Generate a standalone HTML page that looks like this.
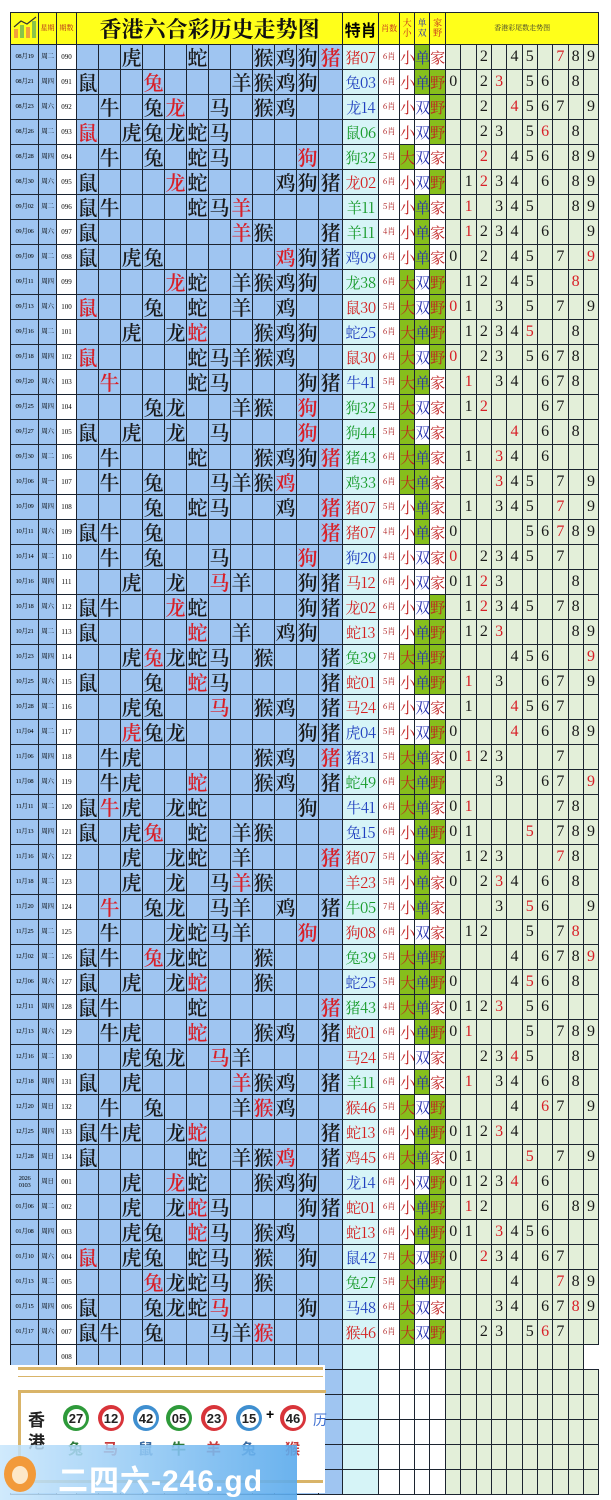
<!DOCTYPE html>
<html><head><meta charset="utf-8">
<style>
body{margin:0;width:611px;height:1500px;background:#fff;position:relative;overflow:hidden;font-family:"Liberation Serif","Noto Serif CJK SC",serif}
table{position:absolute;left:10px;top:12px;border-collapse:collapse;table-layout:fixed;width:588px}
td{border:1px solid #1c2430;padding:0;text-align:center;vertical-align:middle;overflow:hidden;white-space:nowrap;height:24px;background:#9fc5f1;line-height:1}
tr.h td{height:27px;background:#ffff1a}
tbody tr td:nth-child(1){font-size:6.5px;letter-spacing:-0.3px}
tbody tr td:nth-child(2){font-size:6.5px;letter-spacing:-0.3px}
tbody tr td:nth-child(3){font-size:7px;background:#fff}
tbody tr td:nth-child(n+4){font-size:20px;font-family:"Noto Serif CJK SC","Liberation Serif",serif;font-weight:600;color:#1a1a1a}
tbody tr td:nth-child(16){background:#d6f4f7;font-size:15px;font-weight:400;letter-spacing:-0.5px}
tbody tr td:nth-child(17){background:#fff;font-size:8px;color:#b02020;font-weight:400}
tbody tr td:nth-child(18){background:#fff;font-size:15px;color:#c02020;font-weight:400}
tbody tr td:nth-child(19){background:#fff;font-size:15px;color:#2430b0;font-weight:400}
tbody tr td:nth-child(20){background:#fff;font-size:15px;color:#c02020;font-weight:400}
tbody tr td:nth-child(n+21){background:#e3efd9;font-size:16px;font-family:"Liberation Serif",serif;font-weight:400}
tbody tr td.g{background:#86bf1c}
tbody tr td.r{color:#d82028}
.R{color:#d42020!important}.B{color:#1f3fbf!important}.G{color:#179a2a!important}
.ball{position:absolute;width:26px;height:26px;border-radius:50%;top:1405px;font:bold 13px "Liberation Sans",sans-serif;color:#222;display:flex;align-items:center;justify-content:center}
.ball span{background:#fff;border-radius:50%;width:19px;height:19px;display:flex;align-items:center;justify-content:center}
.lb{position:absolute;top:1438px;font:bold 15px "Noto Sans CJK SC",sans-serif}
</style></head><body>
<table>
<colgroup><col style="width:28px"><col style="width:18px"><col style="width:20px"><col span="11" style="width:22px"><col style="width:24px"><col style="width:36px"><col style="width:21px"><col style="width:15px"><col style="width:15px"><col style="width:16px"><col span="10" style="width:15.3px"></colgroup>
<thead><tr class="h"><td><svg width="26" height="24" viewBox="0 0 26 24"><rect x="2" y="14" width="4" height="9" fill="#f2a03a"/><rect x="8" y="10" width="4" height="13" fill="#8bc34a"/><rect x="14" y="12" width="4" height="11" fill="#f2a03a"/><rect x="20" y="6" width="4" height="17" fill="#8bc34a"/><polyline points="2,12 9,6 15,9 24,2" fill="none" stroke="#333" stroke-width="1.2"/></svg></td><td style="font-size:7px;color:#b02020">星期</td><td style="font-size:7px;color:#b02020">期数</td><td colspan="12" style="font:bold 22px 'Noto Serif CJK SC',serif;color:#111">香港六合彩历史走势图</td><td style="font:bold 16px 'Noto Sans CJK SC',sans-serif">特肖</td><td style="font-size:8px;color:#c02020">肖数</td><td style="font-size:9px;color:#c02020;line-height:1.1">大<br>小</td><td style="font-size:9px;color:#2430b0;line-height:1.1">单<br>双</td><td style="font-size:9px;color:#c02020;line-height:1.1">家<br>野</td><td colspan="10" style="font-size:7px;color:#333">香港彩尾数走势图</td></tr></thead>
<tbody>
<tr><td>08月19<td>周二<td>090<td><td><td>虎<td><td><td>蛇<td><td><td>猴<td>鸡<td>狗<td class=r>猪<td class=R>猪07<td>6肖<td>小<td class=g>单<td>家<td><td><td>2<td><td>4<td>5<td><td class=r>7<td>8<td>9
<tr><td>08月21<td>周四<td>091<td>鼠<td><td><td class=r>兔<td><td><td><td>羊<td>猴<td>鸡<td>狗<td><td class=B>兔03<td>6肖<td>小<td class=g>单<td class=g>野<td>0<td><td>2<td class=r>3<td><td>5<td>6<td><td>8<td>
<tr><td>08月23<td>周六<td>092<td><td>牛<td><td>兔<td class=r>龙<td><td>马<td><td>猴<td>鸡<td><td><td class=B>龙14<td>6肖<td>小<td>双<td class=g>野<td><td><td>2<td><td class=r>4<td>5<td>6<td>7<td><td>9
<tr><td>08月26<td>周二<td>093<td class=r>鼠<td><td>虎<td>兔<td>龙<td>蛇<td>马<td><td><td><td><td><td class=G>鼠06<td>6肖<td>小<td>双<td class=g>野<td><td><td>2<td>3<td><td>5<td class=r>6<td><td>8<td>
<tr><td>08月28<td>周四<td>094<td><td>牛<td><td>兔<td><td>蛇<td>马<td><td><td><td class=r>狗<td><td class=G>狗32<td>5肖<td class=g>大<td>双<td>家<td><td><td class=r>2<td><td>4<td>5<td>6<td><td>8<td>9
<tr><td>08月30<td>周六<td>095<td>鼠<td><td><td><td class=r>龙<td>蛇<td><td><td><td>鸡<td>狗<td>猪<td class=R>龙02<td>6肖<td>小<td>双<td class=g>野<td><td>1<td class=r>2<td>3<td>4<td><td>6<td><td>8<td>9
<tr><td>09月02<td>周二<td>096<td>鼠<td>牛<td><td><td><td>蛇<td>马<td class=r>羊<td><td><td><td><td class=G>羊11<td>5肖<td>小<td class=g>单<td>家<td><td class=r>1<td><td>3<td>4<td>5<td><td><td>8<td>9
<tr><td>09月06<td>周六<td>097<td>鼠<td><td><td><td><td><td><td class=r>羊<td>猴<td><td><td>猪<td class=G>羊11<td>4肖<td>小<td class=g>单<td>家<td><td class=r>1<td>2<td>3<td>4<td><td>6<td><td><td>9
<tr><td>09月09<td>周二<td>098<td>鼠<td><td>虎<td>兔<td><td><td><td><td><td class=r>鸡<td>狗<td>猪<td class=B>鸡09<td>6肖<td>小<td class=g>单<td>家<td>0<td><td>2<td><td>4<td>5<td><td>7<td><td class=r>9
<tr><td>09月11<td>周四<td>099<td><td><td><td><td class=r>龙<td>蛇<td><td>羊<td>猴<td>鸡<td>狗<td><td class=G>龙38<td>6肖<td class=g>大<td>双<td class=g>野<td><td>1<td>2<td><td>4<td>5<td><td><td class=r>8<td>
<tr><td>09月13<td>周六<td>100<td class=r>鼠<td><td><td>兔<td><td>蛇<td><td>羊<td><td>鸡<td><td><td class=R>鼠30<td>5肖<td class=g>大<td>双<td class=g>野<td class=r>0<td>1<td><td>3<td><td>5<td><td>7<td><td>9
<tr><td>09月16<td>周二<td>101<td><td><td>虎<td><td>龙<td class=r>蛇<td><td><td>猴<td>鸡<td>狗<td><td class=B>蛇25<td>6肖<td class=g>大<td class=g>单<td class=g>野<td><td>1<td>2<td>3<td>4<td class=r>5<td><td><td>8<td>
<tr><td>09月18<td>周四<td>102<td class=r>鼠<td><td><td><td><td>蛇<td>马<td>羊<td>猴<td>鸡<td><td><td class=R>鼠30<td>6肖<td class=g>大<td>双<td class=g>野<td class=r>0<td><td>2<td>3<td><td>5<td>6<td>7<td>8<td>
<tr><td>09月20<td>周六<td>103<td><td class=r>牛<td><td><td><td>蛇<td>马<td><td><td><td>狗<td>猪<td class=B>牛41<td>5肖<td class=g>大<td class=g>单<td>家<td><td class=r>1<td><td>3<td>4<td><td>6<td>7<td>8<td>
<tr><td>09月25<td>周四<td>104<td><td><td><td>兔<td>龙<td><td><td>羊<td>猴<td><td class=r>狗<td><td class=G>狗32<td>5肖<td class=g>大<td>双<td>家<td><td>1<td class=r>2<td><td><td><td>6<td>7<td><td>
<tr><td>09月27<td>周六<td>105<td>鼠<td><td>虎<td><td>龙<td><td>马<td><td><td><td class=r>狗<td><td class=G>狗44<td>5肖<td class=g>大<td>双<td>家<td><td><td><td><td class=r>4<td><td>6<td><td>8<td>
<tr><td>09月30<td>周二<td>106<td><td>牛<td><td><td><td>蛇<td><td><td>猴<td>鸡<td>狗<td class=r>猪<td class=G>猪43<td>6肖<td class=g>大<td class=g>单<td>家<td><td>1<td><td class=r>3<td>4<td><td>6<td><td><td>
<tr><td>10月06<td>周一<td>107<td><td>牛<td><td>兔<td><td><td>马<td>羊<td>猴<td class=r>鸡<td><td><td class=G>鸡33<td>6肖<td class=g>大<td class=g>单<td>家<td><td><td><td class=r>3<td>4<td>5<td><td>7<td><td>9
<tr><td>10月09<td>周四<td>108<td><td><td><td>兔<td><td>蛇<td>马<td><td><td>鸡<td><td class=r>猪<td class=R>猪07<td>5肖<td>小<td class=g>单<td>家<td><td>1<td><td>3<td>4<td>5<td><td class=r>7<td><td>9
<tr><td>10月11<td>周六<td>109<td>鼠<td>牛<td><td>兔<td><td><td><td><td><td><td><td class=r>猪<td class=R>猪07<td>4肖<td>小<td class=g>单<td>家<td>0<td><td><td><td><td>5<td>6<td class=r>7<td>8<td>9
<tr><td>10月14<td>周二<td>110<td><td>牛<td><td>兔<td><td><td>马<td><td><td><td class=r>狗<td><td class=B>狗20<td>4肖<td>小<td>双<td>家<td class=r>0<td><td>2<td>3<td>4<td>5<td><td>7<td><td>
<tr><td>10月16<td>周四<td>111<td><td><td>虎<td><td>龙<td><td class=r>马<td>羊<td><td><td>狗<td>猪<td class=R>马12<td>6肖<td>小<td>双<td>家<td>0<td>1<td class=r>2<td>3<td><td><td><td><td>8<td>
<tr><td>10月18<td>周六<td>112<td>鼠<td>牛<td><td><td class=r>龙<td>蛇<td><td><td><td><td>狗<td>猪<td class=R>龙02<td>6肖<td>小<td>双<td class=g>野<td><td>1<td class=r>2<td>3<td>4<td>5<td><td>7<td>8<td>
<tr><td>10月21<td>周二<td>113<td>鼠<td><td><td><td><td class=r>蛇<td><td>羊<td><td>鸡<td>狗<td><td class=R>蛇13<td>5肖<td>小<td class=g>单<td class=g>野<td><td>1<td>2<td class=r>3<td><td><td><td><td>8<td>9
<tr><td>10月23<td>周四<td>114<td><td><td>虎<td class=r>兔<td>龙<td>蛇<td>马<td><td>猴<td><td><td>猪<td class=G>兔39<td>7肖<td class=g>大<td class=g>单<td class=g>野<td><td><td><td><td>4<td>5<td>6<td><td><td class=r>9
<tr><td>10月25<td>周六<td>115<td>鼠<td><td><td>兔<td><td class=r>蛇<td>马<td><td><td><td><td>猪<td class=R>蛇01<td>5肖<td>小<td class=g>单<td class=g>野<td><td class=r>1<td><td>3<td><td><td>6<td>7<td><td>9
<tr><td>10月28<td>周二<td>116<td><td><td>虎<td>兔<td><td><td class=r>马<td><td>猴<td>鸡<td><td>猪<td class=R>马24<td>6肖<td>小<td>双<td>家<td><td>1<td><td><td class=r>4<td>5<td>6<td>7<td><td>
<tr><td>11月04<td>周二<td>117<td><td><td class=r>虎<td>兔<td>龙<td><td><td><td><td><td>狗<td>猪<td class=B>虎04<td>5肖<td>小<td>双<td class=g>野<td>0<td><td><td><td class=r>4<td><td>6<td><td>8<td>9
<tr><td>11月06<td>周四<td>118<td><td>牛<td>虎<td><td><td><td><td><td>猴<td>鸡<td><td class=r>猪<td class=B>猪31<td>5肖<td class=g>大<td class=g>单<td>家<td>0<td class=r>1<td>2<td>3<td><td><td><td>7<td><td>
<tr><td>11月08<td>周六<td>119<td><td>牛<td>虎<td><td><td class=r>蛇<td><td><td>猴<td>鸡<td><td>猪<td class=G>蛇49<td>6肖<td class=g>大<td class=g>单<td class=g>野<td><td><td><td>3<td><td><td>6<td>7<td><td class=r>9
<tr><td>11月11<td>周二<td>120<td>鼠<td class=r>牛<td>虎<td><td>龙<td>蛇<td><td><td><td><td>狗<td><td class=B>牛41<td>6肖<td class=g>大<td class=g>单<td>家<td>0<td class=r>1<td><td><td><td><td><td>7<td>8<td>
<tr><td>11月13<td>周四<td>121<td>鼠<td><td>虎<td class=r>兔<td><td>蛇<td><td>羊<td>猴<td><td><td><td class=B>兔15<td>6肖<td>小<td class=g>单<td class=g>野<td>0<td>1<td><td><td><td class=r>5<td><td>7<td>8<td>9
<tr><td>11月16<td>周六<td>122<td><td><td>虎<td><td>龙<td>蛇<td><td>羊<td><td><td><td class=r>猪<td class=R>猪07<td>5肖<td>小<td class=g>单<td>家<td><td>1<td>2<td>3<td><td><td><td class=r>7<td>8<td>
<tr><td>11月18<td>周二<td>123<td><td><td>虎<td><td>龙<td><td>马<td class=r>羊<td>猴<td><td><td><td class=R>羊23<td>5肖<td>小<td class=g>单<td>家<td>0<td><td>2<td class=r>3<td>4<td><td>6<td><td>8<td>
<tr><td>11月20<td>周四<td>124<td><td class=r>牛<td><td>兔<td>龙<td><td>马<td>羊<td><td>鸡<td><td>猪<td class=G>牛05<td>7肖<td>小<td class=g>单<td>家<td><td><td><td>3<td><td class=r>5<td>6<td><td><td>9
<tr><td>11月25<td>周二<td>125<td><td>牛<td><td><td>龙<td>蛇<td>马<td>羊<td><td><td class=r>狗<td><td class=R>狗08<td>6肖<td>小<td>双<td>家<td><td>1<td>2<td><td><td>5<td><td>7<td class=r>8<td>
<tr><td>12月02<td>周二<td>126<td>鼠<td>牛<td><td class=r>兔<td>龙<td>蛇<td><td><td>猴<td><td><td><td class=G>兔39<td>5肖<td class=g>大<td class=g>单<td class=g>野<td><td><td><td><td>4<td><td>6<td>7<td>8<td class=r>9
<tr><td>12月06<td>周六<td>127<td>鼠<td><td>虎<td><td>龙<td class=r>蛇<td><td><td>猴<td><td><td><td class=B>蛇25<td>5肖<td class=g>大<td class=g>单<td class=g>野<td>0<td><td><td><td>4<td class=r>5<td>6<td><td>8<td>
<tr><td>12月11<td>周四<td>128<td>鼠<td>牛<td><td><td><td>蛇<td><td><td><td><td><td class=r>猪<td class=G>猪43<td>4肖<td class=g>大<td class=g>单<td>家<td>0<td>1<td>2<td class=r>3<td><td>5<td>6<td><td><td>
<tr><td>12月13<td>周六<td>129<td><td>牛<td>虎<td><td><td class=r>蛇<td><td><td>猴<td>鸡<td><td>猪<td class=R>蛇01<td>6肖<td>小<td class=g>单<td class=g>野<td>0<td class=r>1<td><td><td><td>5<td><td>7<td>8<td>9
<tr><td>12月16<td>周二<td>130<td><td><td>虎<td>兔<td>龙<td><td class=r>马<td>羊<td><td><td><td><td class=R>马24<td>5肖<td>小<td>双<td>家<td><td><td>2<td>3<td class=r>4<td>5<td><td><td>8<td>
<tr><td>12月18<td>周四<td>131<td>鼠<td><td>虎<td><td><td><td><td class=r>羊<td>猴<td>鸡<td><td>猪<td class=G>羊11<td>6肖<td>小<td class=g>单<td>家<td><td class=r>1<td><td>3<td>4<td><td>6<td><td>8<td>
<tr><td>12月20<td>周日<td>132<td><td>牛<td><td>兔<td><td><td><td>羊<td class=r>猴<td>鸡<td><td><td class=R>猴46<td>5肖<td class=g>大<td>双<td class=g>野<td><td><td><td><td>4<td><td class=r>6<td>7<td><td>9
<tr><td>12月25<td>周四<td>133<td>鼠<td>牛<td>虎<td><td>龙<td class=r>蛇<td><td><td><td><td><td>猪<td class=R>蛇13<td>6肖<td>小<td class=g>单<td class=g>野<td>0<td>1<td>2<td class=r>3<td>4<td><td><td><td><td>
<tr><td>12月28<td>周日<td>134<td>鼠<td><td><td><td><td>蛇<td><td>羊<td>猴<td class=r>鸡<td><td>猪<td class=R>鸡45<td>6肖<td class=g>大<td class=g>单<td>家<td>0<td>1<td><td><td><td class=r>5<td><td>7<td><td>9
<tr><td style="line-height:1.1">2026<br>0103<td>周日<td>001<td><td><td>虎<td><td class=r>龙<td>蛇<td><td><td>猴<td>鸡<td>狗<td><td class=B>龙14<td>6肖<td>小<td>双<td class=g>野<td>0<td>1<td>2<td>3<td class=r>4<td><td>6<td><td><td>
<tr><td>01月06<td>周二<td>002<td><td><td>虎<td><td>龙<td class=r>蛇<td>马<td><td><td><td>狗<td>猪<td class=R>蛇01<td>6肖<td>小<td class=g>单<td class=g>野<td><td class=r>1<td>2<td><td><td><td>6<td><td>8<td>9
<tr><td>01月08<td>周四<td>003<td><td><td>虎<td>兔<td><td class=r>蛇<td>马<td><td>猴<td>鸡<td><td><td class=R>蛇13<td>6肖<td>小<td class=g>单<td class=g>野<td>0<td>1<td><td class=r>3<td>4<td>5<td>6<td><td><td>
<tr><td>01月10<td>周六<td>004<td class=r>鼠<td><td>虎<td>兔<td><td>蛇<td>马<td><td>猴<td><td>狗<td><td class=B>鼠42<td>7肖<td class=g>大<td>双<td class=g>野<td>0<td><td class=r>2<td>3<td>4<td><td>6<td>7<td><td>
<tr><td>01月13<td>周二<td>005<td><td><td><td class=r>兔<td>龙<td>蛇<td>马<td><td>猴<td><td><td><td class=G>兔27<td>5肖<td class=g>大<td class=g>单<td class=g>野<td><td><td><td><td>4<td><td><td class=r>7<td>8<td>9
<tr><td>01月15<td>周四<td>006<td>鼠<td><td><td>兔<td>龙<td>蛇<td class=r>马<td><td><td><td>狗<td><td class=B>马48<td>6肖<td class=g>大<td>双<td>家<td><td><td><td>3<td>4<td><td>6<td>7<td class=r>8<td>9
<tr><td>01月17<td>周六<td>007<td>鼠<td>牛<td><td>兔<td><td><td>马<td>羊<td class=r>猴<td><td><td><td class=R>猴46<td>6肖<td class=g>大<td>双<td class=g>野<td><td><td>2<td>3<td><td>5<td class=r>6<td>7<td><td>
<tr><td><td><td>008<td><td><td><td><td><td><td><td><td><td><td><td><td><td><td><td><td><td><td><td><td><td><td><td><td><td>
<tr><td><td><td><td><td><td><td><td><td><td><td><td><td><td><td><td><td><td><td><td><td><td><td><td><td><td><td><td><td><td>
<tr><td><td><td><td><td><td><td><td><td><td><td><td><td><td><td><td><td><td><td><td><td><td><td><td><td><td><td><td><td><td>
<tr><td><td><td><td><td><td><td><td><td><td><td><td><td><td><td><td><td><td><td><td><td><td><td><td><td><td><td><td><td><td>
<tr><td><td><td><td><td><td><td><td><td><td><td><td><td><td><td><td><td><td><td><td><td><td><td><td><td><td><td><td><td><td>
<tr><td><td><td><td><td><td><td><td><td><td><td><td><td><td><td><td><td><td><td><td><td><td><td><td><td><td><td><td><td><td>
</tbody></table>

<div style="position:absolute;left:10px;top:1365px;width:315px;height:128px;background:#fff"></div>
<div style="position:absolute;left:18px;top:1367px;width:305px;height:6px;border-top:3px solid #d9b468;border-bottom:1px solid #d9b468"></div>
<div style="position:absolute;left:18px;top:1390px;width:305px;height:90px;border:3px solid #d9b468;border-right:none;border-bottom:none"></div>
<div style="position:absolute;left:18px;top:1480px;width:305px;height:3px;background:#d9b468"></div>
<div style="position:absolute;left:28px;top:1408px;font:bold 17px 'Noto Sans CJK SC',sans-serif;line-height:22px;color:#222">香<br>港</div>
<div class="ball" style="left:63px;background:#2e9a3a"><span>27</span></div>
<div class="ball" style="left:98px;background:#d8343a"><span>12</span></div>
<div class="ball" style="left:133px;background:#3f8fd0"><span>42</span></div>
<div class="ball" style="left:166px;background:#2e9a3a"><span>05</span></div>
<div class="ball" style="left:201px;background:#d8343a"><span>23</span></div>
<div class="ball" style="left:236px;background:#3f8fd0"><span>15</span></div>
<div style="position:absolute;left:266px;top:1406px;font:bold 14px 'Liberation Sans',sans-serif">+</div>
<div class="ball" style="left:280px;background:#d8343a"><span>46</span></div>
<div style="position:absolute;left:313px;top:1410px;font:14px 'Noto Sans CJK SC',sans-serif;color:#3f6fd0">历</div>
<div class="lb" style="left:68px;color:#2e7a3a">兔</div>
<div class="lb" style="left:103px;color:#c83a3a">马</div>
<div class="lb" style="left:138px;color:#3a6aa0">鼠</div>
<div class="lb" style="left:171px;color:#2e7a3a">牛</div>
<div class="lb" style="left:206px;color:#c83a3a">羊</div>
<div class="lb" style="left:241px;color:#3a6aa0">兔</div>
<div class="lb" style="left:285px;color:#c83a3a">猴</div>

<div style="position:absolute;left:0;top:1445px;width:297px;height:55px;background:linear-gradient(90deg,rgba(200,230,252,0.85),rgba(90,170,236,0.9));"></div>
<div style="position:absolute;left:4px;top:1456px;width:32px;height:36px;border-radius:50%;background:#f29a3a;"></div>
<div style="position:absolute;left:12px;top:1466px;width:16px;height:18px;border-radius:50%;background:#fde8c8;"></div>
<div style="position:absolute;left:58px;top:1456px;font:bold 30px 'Liberation Sans','Noto Sans CJK SC',sans-serif;color:#fff;letter-spacing:1px">二四六-246.gd</div>
</body></html>
